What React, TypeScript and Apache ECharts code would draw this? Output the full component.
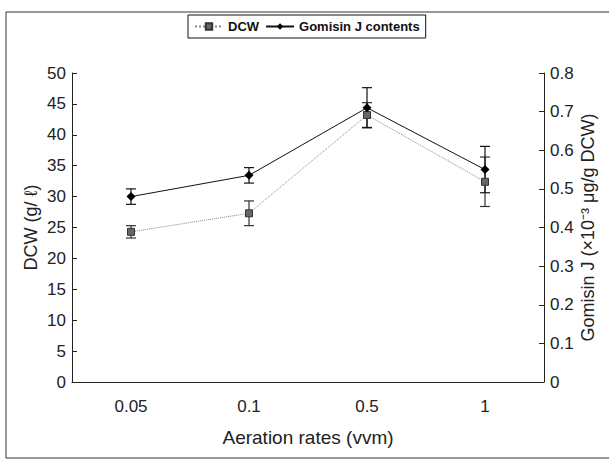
import React, { useEffect, useRef } from "react";
import * as echarts from "echarts";

const categories = ["0.05", "0.1", "0.5", "1"];
const dcwValues = [24.3, 27.3, 43.2, 32.4];
const dcwErrors = [1.0, 2.0, 2.0, 4.0];
const gomisinValues = [0.48, 0.535, 0.71, 0.55];
const gomisinErrors = [0.02, 0.02, 0.052, 0.06];

const FONT = "Liberation Sans";

function errorSeries(values: number[], errs: number[], yAxisIndex: number, color: string) {
  return {
    type: "custom",
    yAxisIndex,
    silent: true,
    z: 1,
    data: values.map((v, i) => [i, v - errs[i], v + errs[i]]),
    renderItem: (params: any, api: any) => {
      const x = api.value(0);
      const lo = api.coord([x, api.value(1)]);
      const hi = api.coord([x, api.value(2)]);
      const hw = 5;
      const style = { stroke: color, lineWidth: 1.2 };
      return {
        type: "group",
        children: [
          { type: "line", shape: { x1: lo[0], y1: lo[1], x2: hi[0], y2: hi[1] }, style },
          { type: "line", shape: { x1: lo[0] - hw, y1: lo[1], x2: lo[0] + hw, y2: lo[1] }, style },
          { type: "line", shape: { x1: hi[0] - hw, y1: hi[1], x2: hi[0] + hw, y2: hi[1] }, style },
        ],
      };
    },
  };
}

export default function App() {
  const ref = useRef<HTMLDivElement>(null);
  useEffect(() => {
    if (!ref.current) return;
    const chart = echarts.init(ref.current, undefined, { renderer: "svg" });
    const axisText = { color: "#222", fontFamily: FONT, fontSize: 17 };
    chart.setOption({
      animation: false,
      backgroundColor: "#fff",
      textStyle: { fontFamily: FONT },
      graphic: [
        {
          type: "rect",
          shape: { x: 6, y: 12, width: 620, height: 446 },
          style: { fill: "none", stroke: "#333", lineWidth: 1 },
          silent: true,
        },
      ],
      legend: {
        left: 188,
        top: 15,
        itemWidth: 28,
        itemHeight: 8,
        itemGap: 6,
        padding: [5, 6, 5, 6],
        borderColor: "#111",
        borderWidth: 1,
        textStyle: { fontFamily: FONT, fontSize: 13, fontWeight: "bold", color: "#111" },
        data: ["DCW", "Gomisin J contents"],
      },
      grid: { left: 72, right: 65, top: 73, bottom: 84 },
      xAxis: {
        type: "category",
        data: categories,
        boundaryGap: true,
        name: "Aeration rates (vvm)",
        nameLocation: "middle",
        nameGap: 46,
        nameTextStyle: { color: "#222", fontFamily: FONT, fontSize: 19 },
        axisLine: { lineStyle: { color: "#222", width: 1 } },
        axisTick: { inside: true, length: 5, lineStyle: { color: "#222" } },
        axisLabel: { ...axisText, margin: 16 },
        splitLine: { show: false },
      },
      yAxis: [
        {
          type: "value",
          min: 0,
          max: 50,
          interval: 5,
          name: "DCW (g/ ℓ)",
          nameLocation: "middle",
          nameGap: 32,
          nameRotate: 90,
          nameMoveOverlap: false,
          nameTextStyle: { color: "#222", fontFamily: FONT, fontSize: 18 },
          axisLine: { show: true, lineStyle: { color: "#222", width: 1 } },
          axisTick: { show: true, inside: true, length: 5, lineStyle: { color: "#222" } },
          axisLabel: { ...axisText, margin: 6 },
          splitLine: { show: false },
        },
        {
          type: "value",
          min: 0,
          max: 0.8,
          interval: 0.1,
          position: "right",
          name: "Gomisin J (×10⁻³ μg/g DCW)",
          nameLocation: "middle",
          nameGap: 35,
          nameRotate: 90,
          nameMoveOverlap: false,
          nameTextStyle: { color: "#222", fontFamily: FONT, fontSize: 18 },
          axisLine: { show: true, lineStyle: { color: "#222", width: 1 } },
          axisTick: { show: true, inside: true, length: 5, lineStyle: { color: "#222" } },
          axisLabel: { ...axisText, margin: 6 },
          splitLine: { show: false },
        },
      ],
      series: [
        errorSeries(dcwValues, dcwErrors, 0, "#333"),
        errorSeries(gomisinValues, gomisinErrors, 1, "#111"),
        {
          name: "DCW",
          type: "line",
          yAxisIndex: 0,
          data: dcwValues,
          symbol: "rect",
          symbolSize: 7,
          itemStyle: { color: "#666", borderColor: "#333", borderWidth: 1 },
          lineStyle: { color: "#888", width: 1, type: "dotted" },
          z: 3,
        },
        {
          name: "Gomisin J contents",
          type: "line",
          yAxisIndex: 1,
          data: gomisinValues,
          symbol: "diamond",
          symbolSize: 9,
          itemStyle: { color: "#000" },
          lineStyle: { color: "#111", width: 1 },
          z: 4,
        },
      ],
    });
    return () => chart.dispose();
  }, []);
  return <div ref={ref} style={{ width: 609, height: 466, position: "absolute", left: 0, top: 0 }} />;
}
